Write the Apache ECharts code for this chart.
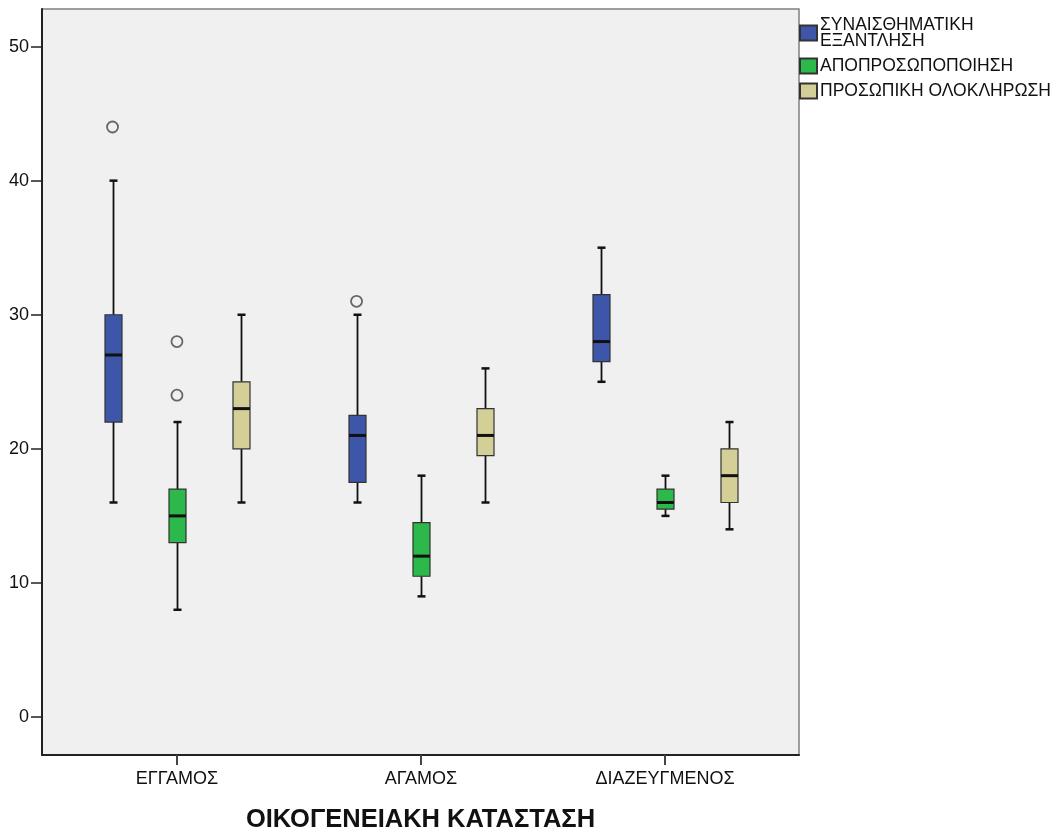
<!DOCTYPE html>
<html>
<head>
<meta charset="utf-8">
<script src="https://cdn.jsdelivr.net/npm/echarts@6/dist/echarts.min.js"></script>
<style>
  html, body { margin: 0; padding: 0; background: #fff; }
  #chart { width: 1057px; height: 834px; }
</style>
</head>
<body>
<div id="chart"></div>
<script>
// Marital status groups on the x axis
const categories = ['ΕΓΓΑΜΟΣ', 'ΑΓΑΜΟΣ', 'ΔΙΑΖΕΥΓΜΕΝΟΣ'];
const seriesNames = ['ΣΥΝΑΙΣΘΗΜΑΤΙΚΗ\nΕΞΑΝΤΛΗΣΗ', 'ΑΠΟΠΡΟΣΩΠΟΠΟΙΗΣΗ', 'ΠΡΟΣΩΠΙΚΗ ΟΛΟΚΛΗΡΩΣΗ'];
const yTicks = [0, 10, 20, 30, 40, 50];

// Box statistics per group: [min whisker, Q1, median, Q3, max whisker]
const exhaustion = [
  [16, 22, 27, 30, 40],
  [16, 17.5, 21, 22.5, 30],
  [25, 26.5, 28, 31.5, 35]
];
const depersonalization = [
  [8, 13, 15, 17, 22],
  [9, 10.5, 12, 14.5, 18],
  [15, 15.5, 16, 17, 18]
];
const accomplishment = [
  [16, 20, 23, 25, 30],
  [16, 19.5, 21, 23, 26],
  [14, 16, 18, 20, 22]
];

// Outliers: [group index, value]
const exhaustionOutliers = [[0, 44], [1, 31]];
const depersonalizationOutliers = [[0, 28], [0, 24]];
const accomplishmentOutliers = [];

const colors = ['#3D56A9', '#2DB84B', '#D4CF97'];
const offsets = [-0.264, 0, 0.264];   // position of each box inside a group
const BOX_W = 17;
const CAP_W = 8;

function renderBox(params, api) {
  const x = api.value(0) + offsets[params.seriesIndex];
  const pt = v => api.coord([x, v]);
  const lo = pt(api.value(1)), q1 = pt(api.value(2)), md = pt(api.value(3)),
        q3 = pt(api.value(4)), hi = pt(api.value(5));
  const cx = Math.round(lo[0]) + 0.5;
  const line = (x1, y1, x2, y2, w) => ({
    type: 'line',
    shape: { x1, y1, x2, y2 },
    style: { stroke: '#111', lineWidth: w }
  });
  return {
    type: 'group',
    children: [
      line(cx, hi[1], cx, q3[1], 1.8),
      line(cx, q1[1], cx, lo[1], 1.8),
      line(cx - CAP_W / 2, hi[1], cx + CAP_W / 2, hi[1], 2.5),
      line(cx - CAP_W / 2, lo[1], cx + CAP_W / 2, lo[1], 2.5),
      {
        type: 'rect',
        shape: { x: cx - BOX_W / 2, y: q3[1], width: BOX_W, height: q1[1] - q3[1] },
        style: { fill: api.visual('color'), stroke: '#333', lineWidth: 1.2 }
      },
      line(cx - BOX_W / 2, md[1], cx + BOX_W / 2, md[1], 3)
    ]
  };
}

function boxSeries(idx, stats) {
  return {
    name: seriesNames[idx],
    type: 'custom',
    renderItem: renderBox,
    itemStyle: { color: colors[idx], borderColor: '#333', borderWidth: 1 },
    encode: { x: 0, y: [1, 2, 3, 4, 5] },
    data: stats.map((s, i) => [i].concat(s)),
    z: 3
  };
}

function outlierSeries(idx, pts) {
  return {
    name: 'outliers-' + idx,
    type: 'scatter',
    symbol: 'circle',
    symbolSize: 11,
    itemStyle: { color: '#F0F0F0', borderColor: '#444', borderWidth: 1.8 },
    data: pts.map(p => [p[0] + offsets[idx], p[1]]),
    z: 4
  };
}

const FONT = "'Liberation Sans', Arial, sans-serif";

const chart = echarts.init(document.getElementById('chart'), null, { renderer: 'canvas' });
chart.setOption({
  animation: false,
  backgroundColor: '#ffffff',
  textStyle: { fontFamily: FONT },
  grid: {
    left: 42, top: 9, right: 258, bottom: 79,
    outerBoundsMode: 'none',
    containLabel: false,
    show: true, backgroundColor: '#F0F0F0', borderColor: '#808080', borderWidth: 1.5
  },
  legend: {
    orient: 'vertical',
    left: 799, top: 16,
    padding: 0,
    itemWidth: 17, itemHeight: 15,
    itemGap: 7,
    icon: 'rect',
    data: seriesNames,
    selectedMode: false,
    textStyle: { fontFamily: FONT, fontSize: 17.5, color: '#111', lineHeight: 16, padding: [0, 0, 0, -2] }
  },
  xAxis: {
    type: 'value',
    min: -0.553, max: 2.549,
    name: 'ΟΙΚΟΓΕΝΕΙΑΚΗ ΚΑΤΑΣΤΑΣΗ',
    nameLocation: 'middle',
    nameGap: 52,
    nameTextStyle: { fontFamily: FONT, fontSize: 25.5, fontWeight: 'bold', color: '#111' },
    axisLine: { show: true, onZero: false, lineStyle: { color: '#222', width: 2 } },
    axisTick: { show: true, customValues: [0, 1, 2], length: 10, lineStyle: { color: '#444', width: 2 } },
    axisLabel: {
      customValues: [0, 1, 2],
      formatter: v => categories[Math.round(v)] || '',
      fontFamily: FONT, fontSize: 18, color: '#111', margin: 15
    },
    splitLine: { show: false }
  },
  yAxis: {
    type: 'value',
    min: -2.83, max: 52.8,
    axisLine: { show: true, onZero: false, lineStyle: { color: '#222', width: 2 } },
    axisTick: { show: true, customValues: yTicks, length: 11, lineStyle: { color: '#222', width: 1.5 } },
    axisLabel: {
      customValues: yTicks,
      fontFamily: FONT, fontSize: 18, color: '#111', margin: 13
    },
    splitLine: { show: false }
  },
  series: [
    boxSeries(0, exhaustion),
    boxSeries(1, depersonalization),
    boxSeries(2, accomplishment),
    outlierSeries(0, exhaustionOutliers),
    outlierSeries(1, depersonalizationOutliers),
    outlierSeries(2, accomplishmentOutliers)
  ]
});
</script>
</body>
</html>
